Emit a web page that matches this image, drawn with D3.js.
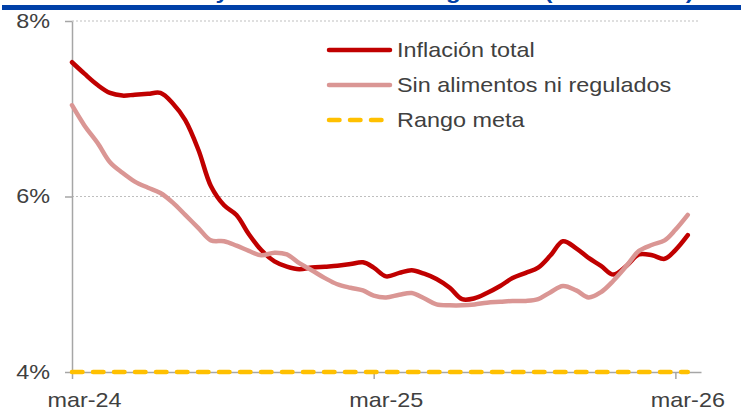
<!DOCTYPE html>
<html>
<head>
<meta charset="utf-8">
<script src="https://cdn.jsdelivr.net/npm/d3@7"></script>
<style>
  body { margin: 0; background: #fff; }
  svg { display: block; }
</style>
</head>
<body>
<svg id="chart"></svg>
<script>
// half-monthly readings, mar-24 .. mid mar-26
var dates = [
  "2024-03-01","2024-03-16","2024-04-01","2024-04-16","2024-05-01","2024-05-16",
  "2024-06-01","2024-06-16","2024-07-01","2024-07-16","2024-08-01","2024-08-16",
  "2024-09-01","2024-09-16","2024-10-01","2024-10-16","2024-11-01","2024-11-16",
  "2024-12-01","2024-12-16","2025-01-01","2025-01-16","2025-02-01","2025-02-16",
  "2025-03-01","2025-03-16","2025-04-01","2025-04-16","2025-05-01","2025-05-16",
  "2025-06-01","2025-06-16","2025-07-01","2025-07-16","2025-08-01","2025-08-16",
  "2025-09-01","2025-09-16","2025-10-01","2025-10-16","2025-11-01","2025-11-16",
  "2025-12-01","2025-12-16","2026-01-01","2026-01-16","2026-02-01","2026-02-16",
  "2026-03-01","2026-03-16"
];
var inflacionTotal = [
  7.53, 7.40, 7.27, 7.18, 7.15, 7.16, 7.17, 7.18, 7.06, 6.87,
  6.53, 6.12, 5.90, 5.79, 5.57, 5.39, 5.26, 5.20, 5.17, 5.19,
  5.20, 5.21, 5.23, 5.25, 5.19, 5.09, 5.13, 5.16, 5.12, 5.06,
  4.96, 4.83, 4.84, 4.90, 4.98, 5.07, 5.13, 5.19, 5.33, 5.49,
  5.41, 5.30, 5.21, 5.11, 5.21, 5.34, 5.33, 5.29, 5.39, 5.56
];
var sinAlimentos = [
  7.04, 6.81, 6.61, 6.39, 6.27, 6.17, 6.10, 6.04, 5.93, 5.79,
  5.64, 5.50, 5.49, 5.44, 5.38, 5.33, 5.36, 5.34, 5.24, 5.16,
  5.07, 5.00, 4.96, 4.93, 4.87, 4.85, 4.88, 4.90, 4.84, 4.77,
  4.76, 4.76, 4.77, 4.79, 4.80, 4.81, 4.81, 4.83, 4.91, 4.98,
  4.93, 4.85, 4.91, 5.04, 5.21, 5.38, 5.45, 5.50, 5.62, 5.79
];
var metaDates = ["2024-03-01", "2026-03-16"];
var metaValues = [4, 4];

var yTicks = [4, 6, 8];
var xTickDates = ["2024-03-01", "2025-03-01", "2026-03-01"];
var xTickLabels = ["mar-24", "mar-25", "mar-26"];
var seriesNames = ["Inflación total", "Sin alimentos ni regulados", "Rango meta"];
var title = "Inflación total y sin alimentos ni regulados (variación %)";

var W = 741, H = 410;
var SX = 1.17;   // the picture is stretched sideways
var FONT = "'Liberation Sans', Arial, sans-serif";
var TXT = "#404040";
var parse = d3.utcParse("%Y-%m-%d");

var colors = ["#C00000", "#DA9694", "#FFC000"];

var svg = d3.select("#chart").attr("width", W).attr("height", H);

var x = d3.scaleUtc()
    .domain([parse("2024-03-01"), parse("2026-04-01")])
    .range([72, 701]);
var y = d3.scaleLinear().domain([4, 8]).range([372, 21]);

// title, mostly outside the frame
svg.append("text")
    .attr("transform", `translate(53,-1) scale(${SX},1)`)
    .style("font-family", FONT)
    .style("font-weight", "bold")
    .style("font-size", "20.5px")
    .style("fill", "#0040A8")
    .text(title);
svg.append("rect")
    .attr("x", 2).attr("y", 5)
    .attr("width", W - 2).attr("height", 5)
    .attr("fill", "#0040A8");

// dotted gridlines
svg.append("g")
    .selectAll("line")
    .data(yTicks.filter(d => d !== 4))
    .join("line")
    .attr("x1", 72).attr("x2", 699)
    .attr("y1", d => y(d)).attr("y2", d => y(d))
    .attr("stroke", "#BFBFBF")
    .attr("stroke-dasharray", "2,2");

// y axis
var yAxis = svg.append("g")
    .attr("transform", "translate(72,0)")
    .call(d3.axisLeft(y).tickValues(yTicks).tickFormat(d => d + "%").tickSize(7).tickSizeOuter(0));
yAxis.select(".domain").attr("stroke", "#A6A6A6").attr("stroke-width", 1.5);
yAxis.selectAll(".tick line").attr("stroke", "#A6A6A6").attr("stroke-width", 1.5);
yAxis.selectAll(".tick text")
    .attr("x", -22 / SX)
    .attr("transform", `scale(${SX},1)`)
    .style("font-family", FONT)
    .style("font-size", "20px")
    .style("fill", TXT);

// x axis
var xAxis = svg.append("g")
    .attr("transform", "translate(0,372)")
    .call(d3.axisBottom(x)
        .tickValues(xTickDates.map(parse))
        .tickFormat((d, i) => xTickLabels[i])
        .tickSize(7).tickSizeOuter(0));
xAxis.select(".domain").attr("stroke", "#A6A6A6").attr("stroke-width", 1.5);
xAxis.selectAll(".tick line").attr("stroke", "#A6A6A6").attr("stroke-width", 1.5);
xAxis.selectAll(".tick text")
    .attr("x", 12 / SX)
    .attr("y", 21)
    .attr("transform", `scale(${SX},1)`)
    .style("font-family", FONT)
    .style("font-size", "20px")
    .style("fill", TXT);

// series
var line = d3.line()
    .x(d => x(d.date))
    .y(d => y(d.value))
    .curve(d3.curveCatmullRom.alpha(0.5));

var meta = metaDates.map((d, i) => ({date: parse(d), value: metaValues[i]}));
var total = dates.map((d, i) => ({date: parse(d), value: inflacionTotal[i]}));
var core = dates.map((d, i) => ({date: parse(d), value: sinAlimentos[i]}));

svg.append("path")
    .datum(meta)
    .attr("d", line)
    .attr("fill", "none")
    .attr("stroke", colors[2])
    .attr("stroke-width", 4.5)
    .attr("stroke-linecap", "round")
    .attr("stroke-dasharray", "10.5,10.5");

svg.append("path")
    .datum(total)
    .attr("d", line)
    .attr("fill", "none")
    .attr("stroke", colors[0])
    .attr("stroke-width", 4.5)
    .attr("stroke-linecap", "round")
    .attr("stroke-linejoin", "round");

svg.append("path")
    .datum(core)
    .attr("d", line)
    .attr("fill", "none")
    .attr("stroke", colors[1])
    .attr("stroke-width", 4.5)
    .attr("stroke-linecap", "round")
    .attr("stroke-linejoin", "round");

// legend
var legend = svg.append("g")
    .selectAll("g")
    .data(seriesNames)
    .join("g")
    .attr("transform", (d, i) => `translate(0,${50 + i * 35})`);

legend.append("line")
    .attr("x1", 329).attr("x2", 390)
    .attr("stroke", (d, i) => colors[i])
    .attr("stroke-width", 4.5)
    .attr("stroke-linecap", "round")
    .attr("stroke-dasharray", (d, i) => i === 2 ? "10.5,10.5" : null);

legend.append("text")
    .attr("transform", `translate(397,7) scale(${SX},1)`)
    .style("font-family", FONT)
    .style("font-size", "20px")
    .style("fill", TXT)
    .text(d => d);
</script>
</body>
</html>
